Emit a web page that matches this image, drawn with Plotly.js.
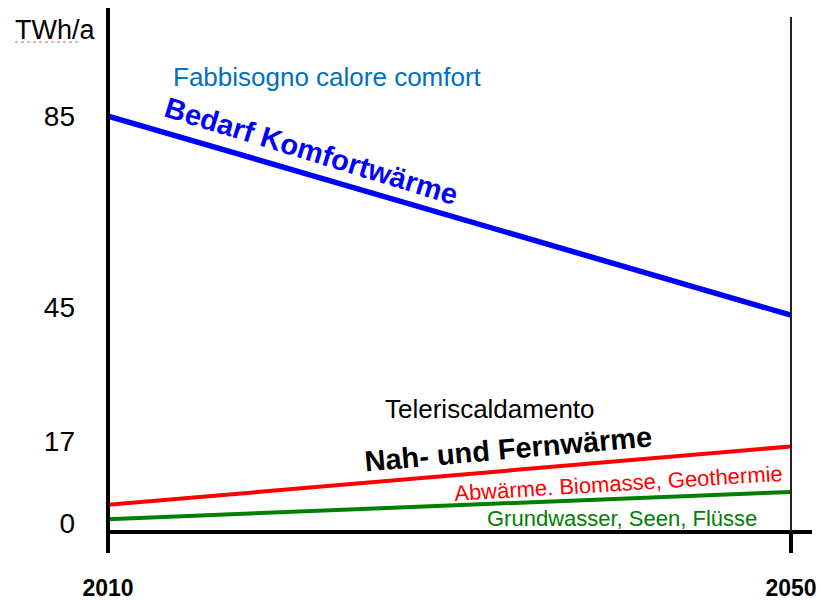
<!DOCTYPE html>
<html>
<head>
<meta charset="utf-8">
<script src="https://cdn.plot.ly/plotly-3.0.1.min.js"></script>
<style>html,body{margin:0;padding:0;background:#fff;}</style>
</head>
<body>
<div id="chart" style="width:821px;height:600px;"></div>
<script>
// ---- data ----
const years = [2010, 2050];
const komfortwaerme = [85, 43.4];     // Bedarf Komfortwärme (TWh/a)
const fernwaerme = [3.8, 16.0];       // Nah- und Fernwärme
const grundwasser = [0.8, 6.5];       // Grundwasser, Seen, Flüsse
const yTickVals = [0, 17, 45, 85];
const yTickText = ['0', '17', '45', '85'];
const xTickVals = [2010, 2050];
const xTickText = ['2010', '2050'];

const FONT = 'Arial, "Liberation Sans", sans-serif';

const traces = [
  {x: years, y: komfortwaerme, mode: 'lines', line: {color: '#0000FF', width: 5.5}, hoverinfo: 'skip'},
  {x: years, y: fernwaerme, mode: 'lines', line: {color: '#FF0000', width: 4}, hoverinfo: 'skip'},
  {x: years, y: grundwasser, mode: 'lines', line: {color: '#008000', width: 4}, hoverinfo: 'skip'}
];

const layout = {
  width: 821, height: 600,
  margin: {l: 108, r: 9, t: 8, b: 68},
  paper_bgcolor: '#fff', plot_bgcolor: '#fff',
  showlegend: false,
  font: {family: FONT, color: '#000'},
  xaxis: {
    range: [2010, 2051.23], showgrid: false, zeroline: false, showline: false,
    tickvals: xTickVals, ticktext: xTickText,
    ticks: 'outside', ticklen: 20, tickwidth: 4, tickcolor: '#000',
    ticklabelstandoff: 15,
    tickfont: {family: FONT, size: 23, color: '#000', weight: 'bold'}
  },
  yaxis: {
    range: [-1.88, 107.56], showgrid: false, zeroline: false, showline: false,
    tickvals: yTickVals, ticktext: yTickText,
    ticks: '', ticklabelstandoff: 32,
    tickfont: {family: FONT, size: 28, color: '#000'}
  },
  shapes: [
    // bottom axis line
    {type: 'line', xref: 'paper', yref: 'paper', x0: 0, x1: 1, y0: 0, y1: 0, line: {color: '#000', width: 4}},
    // left vertical axis line
    {type: 'line', xref: 'paper', yref: 'paper', x0: 0, x1: 0, y0: -0.034, y1: 1, line: {color: '#000', width: 4}},
    // right vertical line at 2050
    {type: 'line', xref: 'x', yref: 'paper', x0: 2050, x1: 2050, y0: 0, y1: 0.983, line: {color: '#222', width: 2}},
    // spellcheck underline under unit
    {type: 'line', xref: 'paper', yref: 'paper', x0: -0.132, x1: -0.04, y0: 0.935, y1: 0.935, line: {color: '#e06060', width: 1, dash: 'dot'}}
  ],
  annotations: [
    {text: 'TWh/a', xref: 'paper', yref: 'paper', x: -0.135, y: 0.958, xanchor: 'left', yanchor: 'middle', showarrow: false,
     font: {family: FONT, size: 27, color: '#000'}},
    {text: 'Fabbisogno calore comfort', xref: 'x', yref: 'y', x: 2022.83, y: 93.15, showarrow: false,
     font: {family: FONT, size: 26, color: '#0070C0'}},
    {text: 'Bedarf Komfortwärme', xref: 'x', yref: 'y', x: 2021.9, y: 77.6, showarrow: false, textangle: 17,
     font: {family: FONT, size: 29, color: '#0000FF', weight: 'bold'}},
    {text: 'Teleriscaldamento', xref: 'x', yref: 'y', x: 2032.37, y: 23.8, showarrow: false,
     font: {family: FONT, size: 26, color: '#000'}},
    {text: 'Nah- und Fernwärme', xref: 'x', yref: 'y', x: 2033.4, y: 15.5, showarrow: false, textangle: -5,
     font: {family: FONT, size: 29, color: '#000', weight: 'bold'}},
    {text: 'Abwärme. Biomasse, Geothermie', xref: 'x', yref: 'y', x: 2039.87, y: 8.15, showarrow: false, textangle: -3.5,
     font: {family: FONT, size: 22, color: '#FF0000'}},
    {text: 'Grundwasser, Seen, Flüsse', xref: 'x', yref: 'y', x: 2040.1, y: 1.04, showarrow: false,
     font: {family: FONT, size: 22, color: '#008000'}}
  ]
};

Plotly.newPlot('chart', traces, layout, {displayModeBar: false, staticPlot: true});
</script>
</body>
</html>
